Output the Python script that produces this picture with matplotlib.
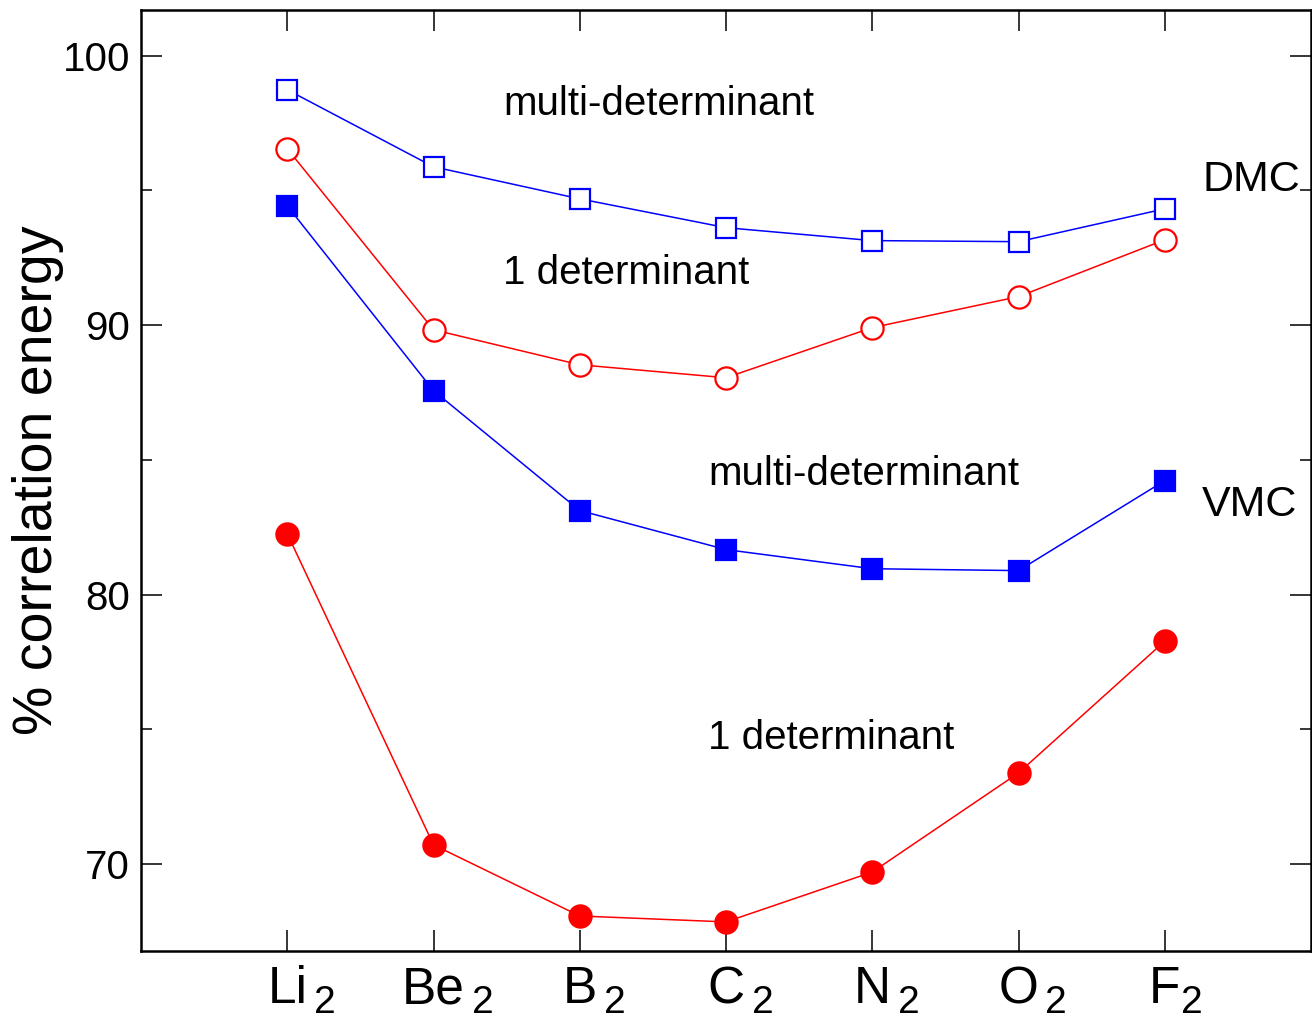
import matplotlib
matplotlib.use("Agg")
import matplotlib.pyplot as plt
from matplotlib.ticker import FixedLocator

plt.rcParams['font.family'] = ['Liberation Sans', 'DejaVu Sans']

molecules = ["Li", "Be", "B", "C", "N", "O", "F"]
subscripts = ["2", "2", "2", "2", "2", "2", "2"]
xpos = [1, 2, 3, 4, 5, 6, 7]

dmc_multi = [98.74, 95.88, 94.69, 93.62, 93.14, 93.10, 94.32]
dmc_single = [96.55, 89.83, 88.53, 88.05, 89.91, 91.06, 93.17]
vmc_multi = [94.43, 87.57, 83.12, 81.67, 80.96, 80.89, 84.23]
vmc_single = [82.26, 70.71, 68.07, 67.85, 69.70, 73.38, 78.27]

fig = plt.figure(figsize=(13.12, 10.21), dpi=100)
ax = fig.add_axes([141/1312, 1-951/1021, (1311-141)/1312, (951-10)/1021])

blue = '#0000ff'
red = '#ff0000'
lw = 1.1
ax.plot(xpos, dmc_multi, color=blue, lw=lw, marker='s', ms=14, mfc='white', mec=blue, mew=1.6, zorder=3)
ax.plot(xpos, dmc_single, color=red, lw=lw, marker='o', ms=16, mfc='white', mec=red, mew=1.6, zorder=3)
ax.plot(xpos, vmc_multi, color=blue, lw=lw, marker='s', ms=14, mfc=blue, mec=blue, mew=1.6, zorder=3)
ax.plot(xpos, vmc_single, color=red, lw=lw, marker='o', ms=16, mfc=red, mec=red, mew=1.6, zorder=3)

ax.set_xlim(0, 8)
ax.set_ylim(66.77, 101.7)

ax.yaxis.set_major_locator(FixedLocator([70, 80, 90, 100]))
ax.yaxis.set_minor_locator(FixedLocator([75, 85, 95]))
ax.xaxis.set_major_locator(FixedLocator(xpos))
ax.set_xticklabels([])

for s in ax.spines.values():
    s.set_linewidth(1.8)
ax.tick_params(axis='y', which='major', direction='in', length=15, width=1.1,
               left=True, right=True, labelsize=29, pad=8)
ax.tick_params(axis='y', which='minor', direction='in', length=8, width=1.1,
               left=True, right=True)
ax.tick_params(axis='x', which='major', direction='in', length=15, width=1.1,
               bottom=True, top=True)

ax.set_ylabel("% correlation energy", fontsize=40, labelpad=-1)

# Category labels with large subscripts
trans = ax.get_xaxis_transform()
mains = []
for x, m in zip(xpos, molecules):
    t = ax.text(x, -0.015, m, transform=trans, ha='center', va='top', fontsize=37)
    mains.append(t)
fig.canvas.draw()
r = fig.canvas.get_renderer()
for t, sub in zip(mains, subscripts):
    bb = t.get_window_extent(r)
    gap = 7 if t.get_text() != "F" else 1
    fig.text(bb.x1 + gap, bb.y0 - 7, sub, transform=None, ha='left', va='bottom', fontsize=28)

fs = 29
fs2 = 31
ax.text(2.475, 97.81, "multi-determinant", fontsize=fs, ha='left', va='baseline')
ax.text(2.475, 91.53, "1 determinant", fontsize=fs, ha='left', va='baseline')
ax.text(7.255, 94.99, "DMC", fontsize=fs2, ha='left', va='baseline')
ax.text(3.877, 84.08, "multi-determinant", fontsize=fs, ha='left', va='baseline')
ax.text(7.255, 82.93, "VMC", fontsize=fs2, ha='left', va='baseline')
ax.text(3.877, 74.27, "1 determinant", fontsize=fs, ha='left', va='baseline')

fig.savefig("out.png", dpi=100)
